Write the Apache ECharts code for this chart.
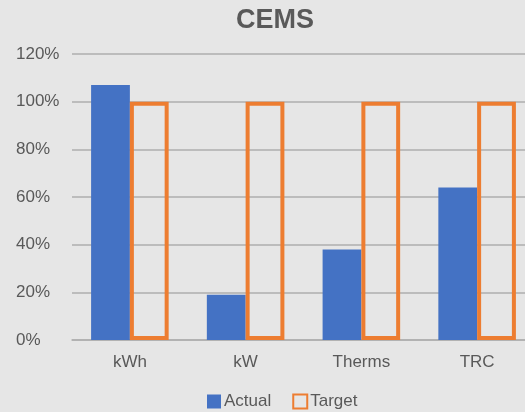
<!DOCTYPE html>
<html>
<head>
<meta charset="utf-8">
<script src="https://cdn.jsdelivr.net/npm/echarts@6/dist/echarts.min.js"></script>
<style>
  html, body { margin: 0; padding: 0; background: #e6e6e6; }
  #chart { width: 525px; height: 412px; }
</style>
</head>
<body>
<div id="chart"></div>
<script>
// Program metrics: actual achievement vs. target (percent)
const categories = ['kWh', 'kW', 'Therms', 'TRC'];
const actualValues = [107, 19, 38, 64];
const targetValues = [100, 100, 100, 100];
const yTicks = { min: 0, max: 120, interval: 20 };

const textColor = '#595959';
const font = 'Liberation Sans, Arial, sans-serif';

const chart = echarts.init(document.getElementById('chart'), null, { renderer: 'canvas' });
chart.setOption({
  backgroundColor: '#e6e6e6',
  animation: false,
  title: {
    text: 'CEMS',
    left: 231,
    top: 2,
    textStyle: { fontFamily: font, fontSize: 27, fontWeight: 'bold', color: textColor }
  },
  legend: {
    top: 393,
    left: 207,
    padding: 0,
    itemGap: 21,
    itemWidth: 14,
    itemHeight: 14,
    icon: 'rect',
    textStyle: { fontFamily: font, fontSize: 17, color: textColor, padding: [0, 0, 0, -2] },
    data: ['Actual', 'Target']
  },
  // the plot area runs a little past the right edge of the canvas
  grid: { left: 72, width: 463, top: 54, bottom: 72, containLabel: false, outerBoundsMode: 'none' },
  xAxis: {
    type: 'category',
    data: categories,
    axisTick: { show: false },
    axisLine: { lineStyle: { color: '#aeaeae', width: 1.5 } },
    axisLabel: { fontFamily: font, fontSize: 17, color: textColor, margin: 14 }
  },
  yAxis: {
    type: 'value',
    min: yTicks.min,
    max: yTicks.max,
    interval: yTicks.interval,
    axisLine: { show: false },
    axisTick: { show: false },
    splitLine: { lineStyle: { color: '#aeaeae', width: 1.5 } },
    axisLabel: {
      fontFamily: font, fontSize: 17, color: textColor,
      align: 'left', margin: 56, formatter: '{value}%'
    }
  },
  series: [
    {
      name: 'Actual',
      type: 'bar',
      data: actualValues,
      barGap: '0%',
      barCategoryGap: '33%',
      itemStyle: { color: '#4472c4' }
    },
    {
      name: 'Target',
      type: 'bar',
      data: targetValues,
      itemStyle: { color: 'rgba(0,0,0,0)', borderColor: '#ed7d31', borderWidth: 4 }
    }
  ]
});
</script>
</body>
</html>
